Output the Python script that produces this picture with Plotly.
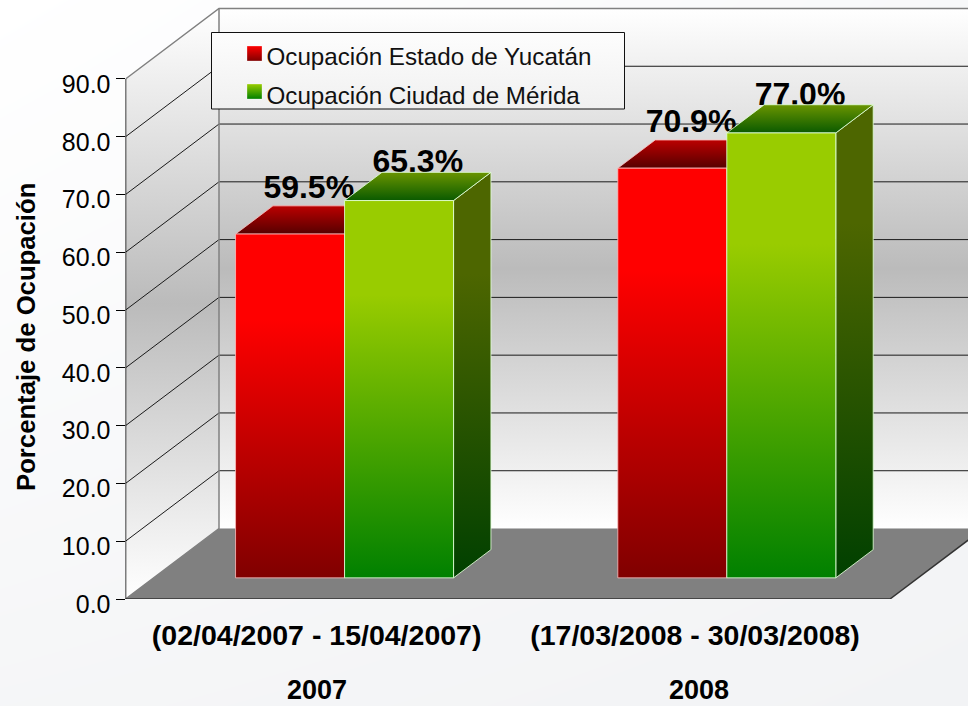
import plotly.graph_objects as go

# ---------- data ----------
periods = ["(02/04/2007 - 15/04/2007)", "(17/03/2008 - 30/03/2008)"]
years = ["2007", "2008"]
series_names = ["Ocupación Estado de Yucatán", "Ocupación Ciudad de Mérida"]
yucatan = [59.5, 70.9]
merida = [65.3, 77.0]
y_ticks = [0, 10, 20, 30, 40, 50, 60, 70, 80, 90]
y_title = "Porcentaje de Ocupación"

# ---------- pseudo-3D geometry (data units) ----------
W, H = 968, 706
L_PX, B_PX = 125.5, 599
CAT_PX, UNIT_PX = 382.25, 5.778
DX, DY = 93.5 / CAT_PX, 70.5 / UNIT_PX
GAP, BAR = 82 / CAT_PX, 109 / CAT_PX
D0, D1 = 0.30, 0.70
XMAX = (W - L_PX) / CAT_PX
YMAX = B_PX / UNIT_PX
TOP = y_ticks[-1]
FONT = "Liberation Sans, Arial, sans-serif"
EDGE = "rgba(255,255,255,0.65)"


def pj(x, v, d):
    return x + d * DX, v + d * DY


def poly(points):
    pts = [pj(*p) for p in points]
    pts.append(pts[0])
    return [p[0] for p in pts], [p[1] for p in pts]


fig = go.Figure()

# page background (very soft diagonal tint)
fig.add_trace(go.Heatmap(x=[0, 1], y=[0, 1], z=[[0.75, 1], [0, 0.6]], zsmooth="best",
                         zmin=0, zmax=1, showscale=False, hoverinfo="skip",
                         colorscale=[[0, "#ffffff"], [1, "#f2f3f5"]],
                         xaxis="x", yaxis="y"))


def face(points, colors, line=EDGE, width=1, **kw):
    xs, ys = poly(points)
    fig.add_trace(go.Scatter(x=xs, y=ys, mode="lines", fill="toself",
                             line=dict(color=line, width=width),
                             fillgradient=dict(type="vertical", colorscale=colors, **kw),
                             showlegend=False, hoverinfo="skip",
                             xaxis="x2", yaxis="y2"))


def edge(x, y, color, width=1):
    fig.add_trace(go.Scatter(x=x, y=y, mode="lines", line=dict(color=color, width=width),
                             showlegend=False, hoverinfo="skip", xaxis="x2", yaxis="y2"))


WALL = [[0, "#ffffff"], [0.5, "#bbbbbb"], [1, "#ffffff"]]
n = len(periods)
# walls
face([(0, 0, 0), (0, 0, 1), (0, TOP, 1), (0, TOP, 0)], WALL, line="rgba(0,0,0,0)")
face([(0, 0, 1), (XMAX + 0.3, 0, 1), (XMAX + 0.3, TOP, 1), (0, TOP, 1)], WALL, line="rgba(0,0,0,0)")
# floor
xs, ys = poly([(0, 0, 0), (n, 0, 0), (n, 0, 1), (0, 0, 1)])
fig.add_trace(go.Scatter(x=xs, y=ys, mode="lines", fill="toself", fillcolor="#808080",
                         line=dict(color="rgba(0,0,0,0)", width=0), showlegend=False,
                         hoverinfo="skip", xaxis="x2", yaxis="y2"))
# grid
for t in y_ticks[1:-1]:
    x0, y0 = pj(0, t, 0)
    x1, y1 = pj(0, t, 1)
    x2, y2 = pj(XMAX + 0.3, t, 1)
    edge([x0, x1, x2], [y0, y1, y2], "#1a1a1a", 1)
# frame
x0, y0 = pj(0, TOP, 0); x1, y1 = pj(0, TOP, 1); x2, y2 = pj(XMAX + 0.3, TOP, 1)
edge([x0, x1, x2], [y0, y1, y2], "#808080", 1.5)
x3, y3 = pj(0, 0, 0); x4, y4 = pj(0, 0, 1)
edge([x3, x4, x1], [y3, y4, y1], "#808080", 1.5)
x5, y5 = pj(n, 0, 0); x6, y6 = pj(n, 0, 1)
edge([x3, x5, x6], [y3, y5, y6], "#333333", 1.5)
edge([0, 0], [0, TOP], "#000000", 1.5)

STY = [
    dict(vals=yucatan, off=0,
         front=[[0, "#800000"], [0.75, "#ff0000"], [1, "#ff0000"]],
         side=[[0, "#400000"], [1, "#800000"]],
         top=[[0, "#560000"], [1, "#bb0000"]],
         lab=16, edge="rgba(255,190,190,0.8)"),
    dict(vals=merida, off=1,
         front=[[0, "#008000"], [0.75, "#99cc00"], [1, "#99cc00"]],
         side=[[0, "#004000"], [0.75, "#4d6600"], [1, "#4d6600"]],
         top=[[0, "#0a5a00"], [1, "#6a9400"]],
         lab=8, edge="rgba(225,255,215,0.85)"),
]

# value labels, under the boxes
for s in STY:
    lx, ly = [], []
    for i, v in enumerate(s["vals"]):
        cx = i + GAP + (s["off"] + 0.5) * BAR
        px, py = pj(cx, v, 0.5)
        lx.append(px)
        ly.append(v + D1 * DY + s["lab"] / UNIT_PX)
    fig.add_trace(go.Scatter(x=lx, y=ly, mode="text", text=[f"{v:.1f}%" for v in s["vals"]],
                             textposition="middle center",
                             textfont=dict(family=FONT, size=32, color="#000000", weight="bold"),
                             showlegend=False, hoverinfo="skip", xaxis="x2", yaxis="y2"))

# boxes
for i in range(n):
    for s in STY:
        v = s["vals"][i]
        a = i + GAP + s["off"] * BAR
        b = a + BAR
        face([(b, 0, D0), (b, 0, D1), (b, v, D1), (b, v, D0)], s["side"], line=s["edge"])
        face([(a, v, D0), (b, v, D0), (b, v, D1), (a, v, D1)], s["top"], line=s["edge"])
        face([(a, 0, D0), (b, 0, D0), (b, v, D0), (a, v, D0)], s["front"], line=s["edge"])

# legend panel and swatches, in page pixels on an overlay axis pair
LEG_X0, LEG_X1, LEG_Y0, LEG_Y1 = 211.5, 624.5, 32.5, 109
fig.add_trace(go.Scatter(x=[LEG_X0, LEG_X1, LEG_X1, LEG_X0, LEG_X0],
                         y=[LEG_Y0, LEG_Y0, LEG_Y1, LEG_Y1, LEG_Y0],
                         mode="lines", fill="toself", line=dict(color="#111111", width=1),
                         fillgradient=dict(type="vertical",
                                           colorscale=[[0, "#f0f0f0"], [1, "#fdfdfd"]]),
                         showlegend=False, hoverinfo="skip", xaxis="x3", yaxis="y3"))
SW_X, SW_Y = [254.5, 254.5], [53.5, 91.5]
fig.add_trace(go.Scatter(x=SW_X[:1], y=SW_Y[:1], mode="markers", showlegend=False, hoverinfo="skip",
                         marker=dict(symbol="square", size=15, color="#ff0000",
                                     gradient=dict(type="vertical", color="#800000"),
                                     line=dict(color="rgba(255,255,255,0.6)", width=0.5)),
                         xaxis="x3", yaxis="y3"))
fig.add_trace(go.Scatter(x=SW_X[1:], y=SW_Y[1:], mode="markers", showlegend=False, hoverinfo="skip",
                         marker=dict(symbol="square", size=15, color="#99cc00",
                                     gradient=dict(type="vertical", color="#008000"),
                                     line=dict(color="rgba(255,255,255,0.6)", width=0.5)),
                         xaxis="x3", yaxis="y3"))

# legend entries (text)
for k, name in enumerate(series_names):
    fig.add_trace(go.Scatter(x=[None], y=[None], mode="markers", name=name,
                             legendgroup=f"g{k}",
                             marker=dict(symbol="square", size=15, opacity=0,
                                         color="rgba(0,0,0,0)"),
                             xaxis="x2", yaxis="y2"))

annotations = [dict(x=i + 0.5, y=(H - 690) / H, xref="x2", yref="paper", yanchor="middle",
                    text=f"<b>{yr}</b>", showarrow=False,
                    font=dict(family=FONT, size=27, color="#000000"))
               for i, yr in enumerate(years)]
annotations.append(dict(x=26 / W, xref="paper", y=(TOP / 2) + 0.35, yref="y2", textangle=-90,
                        xanchor="center", yanchor="middle", showarrow=False,
                        text=f"<b>{y_title}</b>",
                        font=dict(family=FONT, size=25.7, color="#000000")))

fig.update_layout(
    width=W, height=H, autosize=False,
    margin=dict(l=0, r=0, t=0, b=0),
    paper_bgcolor="#ffffff", plot_bgcolor="rgba(0,0,0,0)",
    font=dict(family=FONT, color="#000000"),
    xaxis=dict(domain=[0, 1], range=[0, 1], visible=False, fixedrange=True, automargin=False),
    yaxis=dict(domain=[0, 1], range=[0, 1], visible=False, fixedrange=True, automargin=False),
    xaxis2=dict(domain=[L_PX / W, 1], range=[0, XMAX], anchor="y2", showgrid=False, zeroline=False,
                showline=False, ticks="", tickvals=[0.5, 1.49], ticktext=periods,
                automargin=False,
                tickfont=dict(family=FONT, size=28.5, weight="bold"), ticklabelstandoff=16),
    yaxis2=dict(domain=[(H - B_PX) / H, 1], range=[0, YMAX], anchor="x2", showgrid=False, zeroline=False,
                showline=False, ticks="outside", ticklen=9, tickwidth=1, tickcolor="#000000",
                tickvals=y_ticks, ticktext=[f"{t:.1f}" for t in y_ticks], automargin=False,
                ticklabelshift=5,
                tickfont=dict(family=FONT, size=25)),
    xaxis3=dict(domain=[0, 1], range=[0, W], anchor="y3", visible=False, fixedrange=True, automargin=False),
    yaxis3=dict(domain=[0, 1], range=[H, 0], anchor="x3", visible=False, fixedrange=True, automargin=False),
    legend=dict(x=226.5 / W, y=1 - 33.5 / H, xanchor="left", yanchor="top",
                bgcolor="rgba(0,0,0,0)", borderwidth=0, tracegroupgap=4,
                font=dict(family=FONT, size=24.2, color="#111111"),
                entrywidth=340, entrywidthmode="pixels", itemwidth=30),
    annotations=annotations,
    showlegend=True,
)
fig.write_html("out.html", config=dict(displayModeBar=False, staticPlot=True),
               post_script="document.body.style.margin='0';document.body.style.overflow='hidden';")
